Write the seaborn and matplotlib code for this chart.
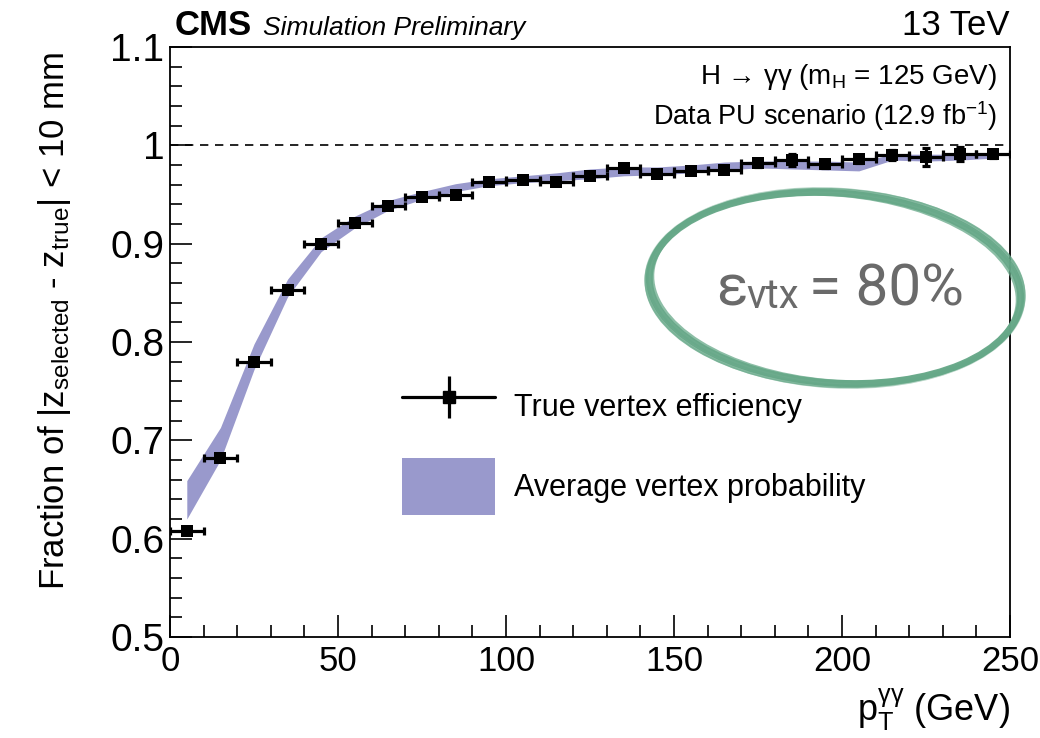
import numpy as np
import pandas as pd
import seaborn as sns
import matplotlib
matplotlib.use("Agg")
import matplotlib.pyplot as plt
from matplotlib import font_manager as fm
from matplotlib.patches import Ellipse, Patch
from matplotlib.lines import Line2D
from matplotlib.legend_handler import HandlerTuple
import matplotlib.transforms as mtransforms
from matplotlib.ticker import MultipleLocator, FuncFormatter

# ---------------- data ----------------
pt_centers = [5, 15, 25, 35, 45, 55, 65, 75, 85, 95, 105, 115, 125,
              135, 145, 155, 165, 175, 185, 195, 205, 215, 225, 235, 245]
pt_halfwidth = [5] * 25
true_eff = [0.608, 0.682, 0.780, 0.853, 0.900, 0.921, 0.938, 0.947, 0.950,
            0.963, 0.965, 0.963, 0.969, 0.977, 0.971, 0.974, 0.975, 0.982,
            0.985, 0.981, 0.986, 0.990, 0.988, 0.991, 0.991]
true_eff_err = [0.003, 0.003, 0.003, 0.003, 0.003, 0.003, 0.003, 0.003, 0.003,
                0.003, 0.003, 0.003, 0.003, 0.003, 0.003, 0.003, 0.003, 0.004,
                0.006, 0.004, 0.004, 0.005, 0.009, 0.007, 0.004]
avg_prob_low = [0.620, 0.680, 0.772, 0.846, 0.892, 0.916, 0.934, 0.945, 0.953,
                0.959, 0.962, 0.964, 0.966, 0.969, 0.970, 0.972, 0.975, 0.977,
                0.976, 0.975, 0.974, 0.985, 0.984, 0.985, 0.987]
avg_prob_high = [0.659, 0.713, 0.798, 0.864, 0.906, 0.928, 0.944, 0.953, 0.961,
                 0.966, 0.969, 0.972, 0.976, 0.978, 0.978, 0.980, 0.983, 0.984,
                 0.984, 0.984, 0.983, 0.991, 0.991, 0.991, 0.991]
x_ticks = [0, 50, 100, 150, 200, 250]
y_ticks = [0.5, 0.6, 0.7, 0.8, 0.9, 1.0, 1.1]

df = pd.DataFrame({"pt": pt_centers, "eff": true_eff, "err": true_eff_err,
                   "xerr": pt_halfwidth, "lo": avg_prob_low, "hi": avg_prob_high})

# ---------------- style ----------------
sns.set_theme(style="ticks")
names = {f.name for f in fm.fontManager.ttflist}
base = "Liberation Sans" if "Liberation Sans" in names else "DejaVu Sans"
light = "Roboto" if "Roboto" in names else base
plt.rcParams["font.family"] = [base, "DejaVu Sans"]
plt.rcParams["mathtext.fontset"] = "custom"
plt.rcParams["mathtext.rm"] = base
plt.rcParams["mathtext.it"] = base + ":italic"
plt.rcParams["mathtext.default"] = "regular"
for k in ["text.color", "axes.labelcolor", "xtick.color", "ytick.color",
          "axes.edgecolor"]:
    plt.rcParams[k] = "black"

band_color = "#9999cc"

fig = plt.figure(figsize=(10.4, 7.38), dpi=100)
fig.patch.set_facecolor("white")
ax = fig.add_axes([170 / 1040, 1 - 637 / 738, 840 / 1040, 590 / 738])
ax.set_facecolor("white")

# band
ax.fill_between(df["pt"], df["lo"], df["hi"], color=band_color, lw=0, zorder=2)

# dashed line at 1
ax.axhline(1.0, color="black", lw=1.2, ls=(0, (5, 4)), zorder=1)

# error bars + markers
ax.errorbar(df["pt"], df["eff"], xerr=df["xerr"], yerr=df["err"], fmt="none",
            ecolor="black", elinewidth=2.3, capsize=2.8, capthick=2.3, zorder=3)
sns.scatterplot(data=df, x="pt", y="eff", marker="s", s=85, color="black",
                edgecolor="black", linewidth=0, zorder=4, ax=ax, legend=False)

ax.set_xlim(0, 250)
ax.set_ylim(0.5, 1.1)
ax.set_xticks(x_ticks)
ax.set_yticks(y_ticks)
ax.xaxis.set_minor_locator(MultipleLocator(10))
ax.yaxis.set_minor_locator(MultipleLocator(0.02))
ax.yaxis.set_major_formatter(FuncFormatter(lambda v, p: f"{v:g}"))
ax.tick_params(axis="both", which="major", direction="in", length=16, width=1.2,
               top=False, right=False)
ax.tick_params(axis="both", which="minor", direction="in", length=8.5, width=1.2,
               top=False, right=False)
ax.tick_params(axis="y", labelsize=28, pad=4)
ax.tick_params(axis="x", labelsize=25, pad=6)
for sp in ax.spines.values():
    sp.set_linewidth(1.3)
    sp.set_color("black")
    sp.set_visible(True)

ax.set_xlabel(r"p$_{T}^{\gamma\gamma}$ (GeV)", fontsize=26, ha="right", va="center")
ax.xaxis.set_label_coords(1.0, -0.124)
ax.set_ylabel(r"Fraction of |z$_{selected}$ - z$_{true}$| < 10 mm", fontsize=25,
              ha="center", va="center")
ax.yaxis.set_label_coords(-0.137, 0.535)

# header
fig.text(175 / 1040, 1 - 35 / 738, "CMS", fontsize=25, fontweight="bold",
         ha="left", va="baseline")
fig.text(263 / 1040, 1 - 35 / 738, "Simulation Preliminary", fontsize=19,
         style="italic", ha="left", va="baseline")
fig.text(1010 / 1040, 1 - 35 / 738, "13 TeV", fontsize=25, ha="right", va="baseline")

# info text
fig.text(997 / 1040, 1 - 84 / 738, r"H → γγ (m$_{H}$ = 125 GeV)", fontsize=20,
         family=[base, "DejaVu Sans"], ha="right", va="baseline")
fig.text(997 / 1040, 1 - 125 / 738, r"Data PU scenario (12.9 fb$^{-1}$)",
         fontsize=19.5, ha="right", va="baseline")

# legend
h1 = (Line2D([], [], color="black", lw=2.3, marker="s", ms=8.5),
      Line2D([], [], color="black", ls="none", marker="|", ms=30, mew=2.3))
h2 = Patch(facecolor=band_color, edgecolor="none")
leg = ax.legend([h1, h2], ["True vertex efficiency", "Average vertex probability"],
                handler_map={tuple: HandlerTuple(ndivide=1)},
                loc="upper left", bbox_to_anchor=((402 - 170) / 840, (637 - 378) / 590),
                frameon=False, fontsize=22, handlelength=3.05, handleheight=2.5,
                handletextpad=0.62, labelspacing=0.75, borderaxespad=0, borderpad=0)

# hand-drawn ellipse annotation
green = "#66a888"
ident = mtransforms.IdentityTransform()
cx, cy = 835, 738 - 288
for w, h, ang, lw, al in [(372, 190, -4, 5, 0.95), (378, 196, -3, 2.5, 0.75),
                          (366, 186, -5, 2.5, 0.75), (375, 193, -4.5, 1.5, 0.6),
                          (380, 199, -3.5, 1.2, 0.5)]:
    fig.add_artist(Ellipse((cx, cy), w, h, angle=ang, fill=False,
                           edgecolor=green, lw=lw, alpha=al, transform=ident))

gray = "#6a6a6a"
fig.text(716 / 1040, 1 - 305 / 738, "ε", fontsize=42, color=gray, family=light,
         ha="left", va="baseline")
fig.text(746 / 1040, 1 - 308 / 738, "vtx", fontsize=29, color=gray, family=light,
         ha="left", va="baseline")
fig.text(809 / 1040, 1 - 305 / 738, "= 80%", fontsize=42, color=gray, family=light,
         ha="left", va="baseline")

fig.savefig("out.png", dpi=100, facecolor="white")
